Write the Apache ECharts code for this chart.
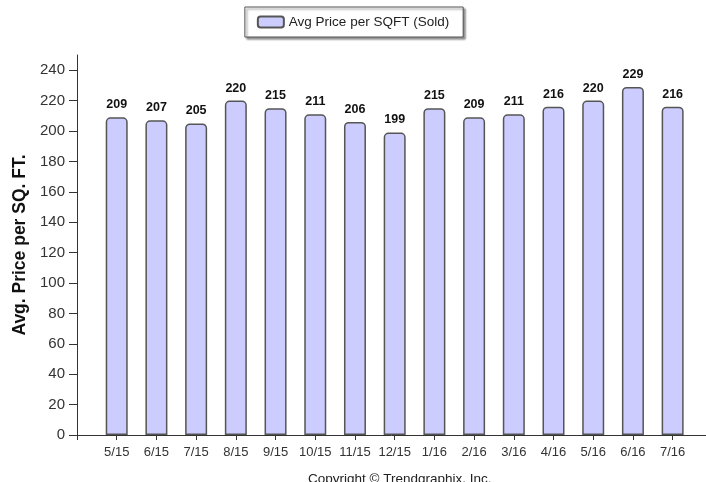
<!DOCTYPE html>
<html>
<head>
<meta charset="utf-8">
<script src="https://cdn.jsdelivr.net/npm/echarts@6/dist/echarts.min.js"></script>
<style>
  html, body { margin: 0; padding: 0; background: #fff; }
  #chart { width: 706px; height: 482px; }
</style>
</head>
<body>
<div id="chart"></div>
<script>
// Monthly labels and sold price per square foot
const months = ['5/15', '6/15', '7/15', '8/15', '9/15', '10/15', '11/15', '12/15',
                '1/16', '2/16', '3/16', '4/16', '5/16', '6/16', '7/16'];
const avgPriceSold = [209, 207, 205, 220, 215, 211, 206, 199, 215, 209, 211, 216, 220, 229, 216];
const yTicks = [0, 20, 40, 60, 80, 100, 120, 140, 160, 180, 200, 220, 240];

const font = 'Liberation Sans, Arial, sans-serif';
const chart = echarts.init(document.getElementById('chart'), null, { renderer: 'canvas' });

chart.setOption({
  animation: false,
  backgroundColor: '#fff',
  grid: { left: 77, right: 0, top: 55, bottom: 47 },
  legend: {
    top: 7,
    left: 'center',
    padding: [8, 14, 8, 12],
    itemWidth: 26,
    itemHeight: 11,
    itemGap: 6,
    backgroundColor: '#fff',
    borderColor: '#555',
    borderWidth: 1,
    shadowColor: 'rgba(0,0,0,0.45)',
    shadowBlur: 2,
    shadowOffsetX: 2,
    shadowOffsetY: 2,
    textStyle: { fontFamily: font, fontSize: 13.5, color: '#222' },
    data: ['Avg Price per SQFT (Sold)']
  },
  title: {
    text: 'Copyright \u00A9 Trendgraphix, Inc.',
    left: 303,
    top: 467,
    textStyle: { fontFamily: font, fontSize: 13.5, fontWeight: 'normal', color: '#222' }
  },
  xAxis: {
    type: 'value',
    min: -1,
    max: 14.84,
    interval: 1,
    splitLine: { show: false },
    axisLine: { lineStyle: { color: '#333', width: 1 } },
    axisTick: { show: true, length: 5, lineStyle: { color: '#333' } },
    axisLabel: {
      fontFamily: font, fontSize: 13, color: '#333', margin: 11,
      showMinLabel: true, showMaxLabel: false,
      formatter: function (v) {
        const i = Math.round(v);
        return (i >= 0 && i < months.length && Math.abs(v - i) < 1e-6) ? months[i] : '';
      }
    }
  },
  yAxis: {
    type: 'value',
    min: 0,
    max: 250,
    interval: 20,
    name: 'Avg. Price per SQ. FT.',
    nameLocation: 'middle',
    nameGap: 47,
    nameTextStyle: { fontFamily: font, fontSize: 17.5, fontWeight: 'bold', color: '#111' },
    splitLine: { show: false },
    axisLine: { show: true, onZero: false, lineStyle: { color: '#333', width: 1 } },
    axisTick: { show: true, length: 8, lineStyle: { color: '#333' } },
    axisLabel: {
      fontFamily: font, fontSize: 15, color: '#333', margin: 12,
      showMaxLabel: false,
      formatter: function (v) { return yTicks.indexOf(v) >= 0 ? String(v) : ''; }
    }
  },
  series: [{
    name: 'Avg Price per SQFT (Sold)',
    type: 'bar',
    barWidth: 22,
    data: avgPriceSold.map(function (v, i) { return [i, v]; }),
    itemStyle: {
      color: '#ccccff',
      borderColor: '#555',
      borderWidth: 1.5,
      borderRadius: [4, 4, 0, 0]
    },
    label: {
      show: true,
      position: 'top',
      distance: 6,
      fontFamily: font,
      fontSize: 12.5,
      fontWeight: 'bold',
      color: '#111',
      formatter: function (p) { return p.value[1]; }
    }
  }]
});
</script>
</body>
</html>
